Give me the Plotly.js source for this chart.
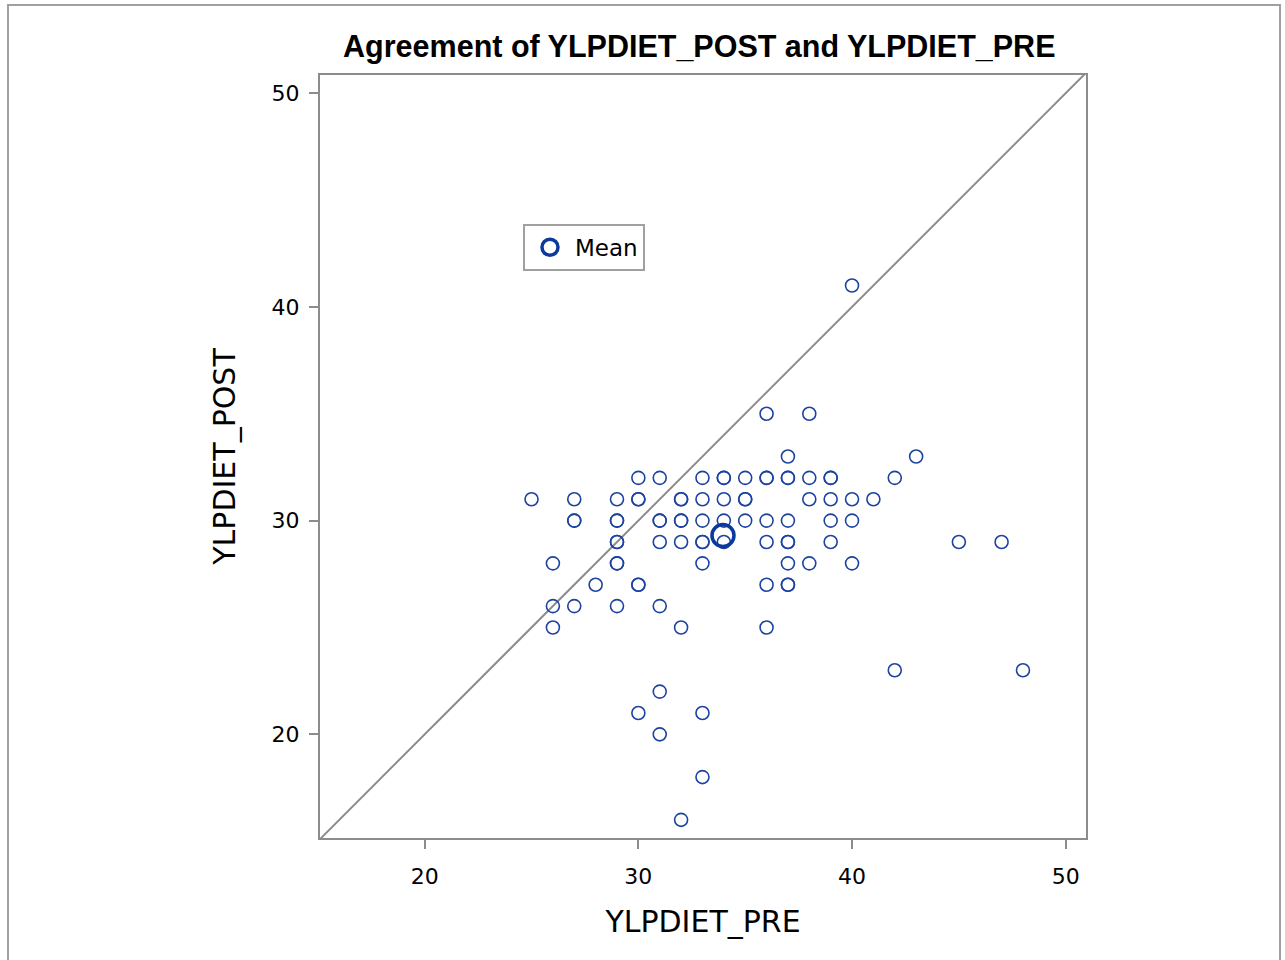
<!DOCTYPE html>
<html>
<head>
<meta charset="utf-8">
<script src="https://cdn.plot.ly/plotly-3.0.1.min.js"></script>
<style>
  html, body { margin: 0; padding: 0; background: #fff; overflow: hidden; }
  #frame { position: absolute; left: 7px; top: 4px; width: 1274px; height: 1000px; border: 2px solid #a0a0a0; box-sizing: border-box; pointer-events: none; z-index: 5; }
  #chart { position: absolute; left: 0; top: 0; width: 1285px; height: 960px; }
</style>
</head>
<body>
<div id="chart"></div>
<div id="frame"></div>
<script>
// Observations (YLPDIET_PRE, YLPDIET_POST); repeated pairs are overlapping points
const pre = [
  25,
  26, 26, 26,
  27, 27, 27, 27,
  28,
  29, 29, 29, 29, 29, 29, 29, 29,
  30, 30, 30, 30, 30, 30,
  31, 31, 31, 31, 31, 31, 31,
  32, 32, 32, 32, 32, 32, 32,
  33, 33, 33, 33, 33, 33, 33, 33,
  34, 34, 34, 34, 34,
  35, 35, 35, 35,
  36, 36, 36, 36, 36, 36, 36,
  37, 37, 37, 37, 37, 37, 37, 37, 37,
  38, 38, 38, 38,
  39, 39, 39, 39, 39,
  40, 40, 40, 40,
  41,
  42, 42,
  43,
  45,
  47,
  48
];
const post = [
  31,
  28, 26, 25,
  31, 30, 30, 26,
  27,
  31, 30, 30, 29, 29, 28, 28, 26,
  32, 31, 31, 27, 27, 21,
  32, 30, 30, 29, 26, 22, 20,
  31, 31, 30, 30, 29, 25, 16,
  32, 31, 30, 29, 29, 28, 21, 18,
  32, 32, 31, 30, 29,
  32, 31, 31, 30,
  35, 32, 32, 30, 29, 27, 25,
  33, 32, 32, 30, 29, 29, 28, 27, 27,
  35, 32, 31, 28,
  32, 32, 31, 30, 29,
  41, 31, 30, 28,
  31,
  32, 23,
  33,
  29,
  29,
  23
];
const meanPre = [33.96];
const meanPost = [29.3];
const refLine = [14, 52];

const blue = '#1c43a0';
const dark = '#0b3a9c';

const traces = [
  {
    x: refLine, y: refLine, type: 'scatter', mode: 'lines',
    line: { color: '#8c8c8c', width: 2 }, showlegend: false, hoverinfo: 'skip'
  },
  {
    x: pre, y: post, type: 'scatter', mode: 'markers', name: 'Obs',
    marker: { symbol: 'circle-open', size: 13, color: blue, line: { width: 1.6, color: blue } },
    showlegend: false
  },
  {
    x: meanPre, y: meanPost, type: 'scatter', mode: 'markers', name: 'Mean',
    marker: { symbol: 'circle-open', size: 22, color: dark, line: { width: 3.5, color: dark } },
    showlegend: true
  }
];

const titleFont = { family: 'DejaVu Sans, sans-serif', size: 30, color: '#000' };
const axisCommon = {
  showgrid: false, zeroline: false,
  showline: true, linecolor: '#8c8c8c', linewidth: 2, mirror: true,
  ticks: 'outside', ticklen: 9, tickwidth: 2, tickcolor: '#8c8c8c',
  tickfont: { family: 'DejaVu Sans, sans-serif', size: 22, color: '#000' },
  tickvals: [20, 30, 40, 50], ticktext: ['20', '30', '40', '50']
};

const layout = {
  width: 1285, height: 960,
  paper_bgcolor: 'rgba(0,0,0,0)', plot_bgcolor: '#fff',
  margin: { l: 320, r: 199, t: 75, b: 122, pad: 0 },
  title: {
    text: '<b>Agreement of YLPDIET_POST and YLPDIET_PRE</b>',
    font: { family: 'Liberation Sans, Arial, sans-serif', size: 30.5, color: '#000' },
    x: 0.5442, xanchor: 'center', y: 0.952, yanchor: 'middle'
  },
  xaxis: Object.assign({}, axisCommon, {
    range: [15.1, 50.95],
    ticklabelstandoff: 9,
    title: { text: 'YLPDIET_PRE', standoff: 23, font: titleFont }
  }),
  yaxis: Object.assign({}, axisCommon, {
    range: [15.15, 50.85],
    ticklabelstandoff: 5,
    title: { text: 'YLPDIET_POST', standoff: 27, font: titleFont }
  }),
  showlegend: true,
  legend: {
    x: 0.265, y: 0.805, xanchor: 'left', yanchor: 'top',
    bgcolor: '#fff', bordercolor: '#a0a0a0', borderwidth: 2,
    font: { family: 'DejaVu Sans, sans-serif', size: 23, color: '#000' },
    itemsizing: 'trace', itemwidth: 40
  }
};

Plotly.newPlot('chart', traces, layout, { displayModeBar: false, staticPlot: true });
</script>
</body>
</html>
